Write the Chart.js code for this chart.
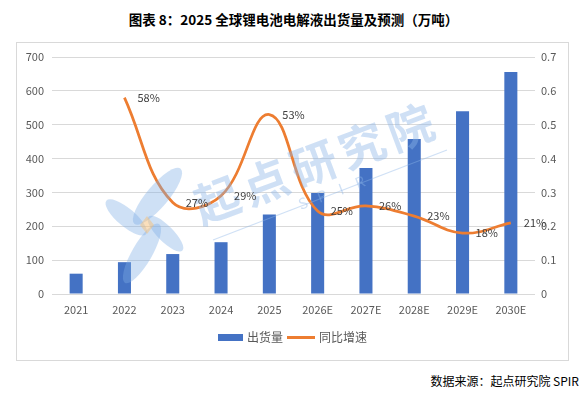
<!DOCTYPE html>
<html>
<head>
<meta charset="utf-8">
<script src="https://cdn.jsdelivr.net/npm/chart.js@4.4.0/dist/chart.umd.min.js"></script>
<style>
  body { margin: 0; background: #fff; width: 587px; height: 395px; position: relative; overflow: hidden;
         font-family: "Noto Sans CJK SC", "Noto Sans", sans-serif; }
  #title { position: absolute; left: 0; width: 587px; top: 9px; text-align: center;
           font-size: 13.5px; font-weight: bold; color: #000; line-height: 20px; }
  #frame { position: absolute; left: 16px; top: 42px; width: 551px; height: 317px; border: 1px solid #d9d9d9; }
  #wrap { position: absolute; left: 16px; top: 42px; width: 552px; height: 318px; }
  #source { position: absolute; right: 8px; top: 372px; font-size: 12px; color: #000; line-height: 18px; }
</style>
</head>
<body>
<div id="title">图表 8：2025 全球锂电池电解液出货量及预测（万吨）</div>
<div id="frame"></div>
<div id="wrap"><canvas id="chart" width="552" height="318"></canvas></div>
<div id="source">数据来源：起点研究院 SPIR</div>
<script>
// values
const years = ['2021', '2022', '2023', '2024', '2025', '2026E', '2027E', '2028E', '2029E', '2030E'];
const shipments = [60, 94, 118, 153, 235, 298, 372, 458, 540, 656];
const growth = [null, 0.58, 0.27, 0.29, 0.53, 0.245, 0.26, 0.23, 0.18, 0.21];
const growthLabels = ['', '58%', '27%', '29%', '53%', '25%', '26%', '23%', '18%', '21%'];
const leftTicks = [0, 100, 200, 300, 400, 500, 600, 700];
const rightTicks = [0, 0.1, 0.2, 0.3, 0.4, 0.5, 0.6, 0.7];

const BLUE = '#4472C4';
const ORANGE = '#ED7D31';
const FONT = '"Noto Sans CJK SC", "Noto Sans", sans-serif';

const extras = {
  id: 'extras',
  afterDatasetsDraw(chart) {
    const ctx = chart.ctx;
    // watermark
    ctx.save();
    ctx.globalAlpha = 0.42;
    ctx.fillStyle = '#8db6e6';
    const chars = '起点研究院';
    const ang = -20.5 * Math.PI / 180;
    for (let i = 0; i < chars.length; i++) {
      ctx.save();
      ctx.translate(201 + i * 48.3, 158 - i * 18.2);
      ctx.rotate(ang);
      ctx.font = 'bold 46px ' + FONT;
      ctx.textAlign = 'center';
      ctx.textBaseline = 'middle';
      ctx.fillText(chars[i], 0, 0);
      ctx.restore();
    }
    const spir = 'SPIR';
    for (let i = 0; i < spir.length; i++) {
      ctx.save();
      ctx.translate(287 + i * 19, 161 - i * 7);
      ctx.rotate(ang);
      ctx.font = '15px ' + FONT;
      ctx.textAlign = 'center';
      ctx.textBaseline = 'middle';
      ctx.fillText(spir[i], 0, 0);
      ctx.restore();
    }
    ctx.strokeStyle = '#8db6e6';
    ctx.lineWidth = 1.2;
    ctx.beginPath();
    ctx.moveTo(197, 198);
    ctx.lineTo(431, 108);
    ctx.stroke();
    // logo petals
    const cx = 131, cy = 183;
    ctx.globalAlpha = 0.38;
    ctx.fillStyle = '#7eaee6';
    [[-160, 26, 9], [-70, 36, 11], [25, 24, 8], [100, 34, 10]].forEach(p => {
      const a = p[0] * Math.PI / 180;
      ctx.beginPath();
      ctx.ellipse(cx + Math.cos(a) * p[1] * 0.85, cy + Math.sin(a) * p[1] * 0.85, p[1], p[2], a + 0.35, 0, Math.PI * 2);
      ctx.fill();
    });
    ctx.globalAlpha = 0.5;
    ctx.fillStyle = '#f5c07a';
    ctx.beginPath();
    ctx.moveTo(cx, cy - 9); ctx.lineTo(cx + 7, cy); ctx.lineTo(cx, cy + 9); ctx.lineTo(cx - 7, cy);
    ctx.closePath();
    ctx.fill();
    ctx.restore();

    // data labels for the growth line
    const meta = chart.getDatasetMeta(1);
    ctx.save();
    ctx.font = '11px ' + FONT;
    ctx.fillStyle = '#404040';
    ctx.textAlign = 'left';
    ctx.textBaseline = 'middle';
    meta.data.forEach((pt, i) => {
      if (growth[i] == null) return;
      ctx.fillText(growthLabels[i], pt.x + 13, pt.y);
    });
    ctx.restore();
  },
  afterDraw(chart) {
    const ctx = chart.ctx;
    ctx.save();
    const ly = 295.5;
    ctx.fillStyle = BLUE;
    ctx.fillRect(202, ly - 3.5, 25, 7);
    ctx.strokeStyle = ORANGE;
    ctx.lineWidth = 3;
    ctx.beginPath();
    ctx.moveTo(271, ly);
    ctx.lineTo(299, ly);
    ctx.stroke();
    ctx.font = '12px ' + FONT;
    ctx.fillStyle = '#595959';
    ctx.textBaseline = 'middle';
    ctx.fillText('出货量', 231, ly);
    ctx.fillText('同比增速', 303, ly);
    ctx.restore();
  }
};

new Chart(document.getElementById('chart'), {
  data: {
    labels: years,
    datasets: [
      {
        type: 'bar',
        label: '出货量',
        data: shipments,
        backgroundColor: BLUE,
        categoryPercentage: 1,
        barPercentage: 0.27,
        yAxisID: 'y',
        order: 2
      },
      {
        type: 'line',
        label: '同比增速',
        data: growth,
        borderColor: ORANGE,
        borderWidth: 2.75,
        pointRadius: 0,
        tension: 0.4,
        fill: false,
        yAxisID: 'y1',
        order: 1
      }
    ]
  },
  options: {
    responsive: false,
    devicePixelRatio: 1,
    animation: false,
    layout: { padding: { top: 15, left: 0, right: 0, bottom: 0 } },
    plugins: { legend: { display: false }, tooltip: { enabled: false } },
    scales: {
      x: {
        grid: { display: false },
        border: { display: false },
        ticks: { color: '#595959', font: { size: 11, family: FONT }, padding: 1, maxRotation: 0 },
        afterFit: s => { s.height = 66; }
      },
      y: {
        position: 'left',
        min: leftTicks[0],
        max: leftTicks[leftTicks.length - 1],
        ticks: { stepSize: leftTicks[1] - leftTicks[0], color: '#595959', font: { size: 11, family: FONT }, padding: 8 },
        grid: { color: '#d9d9d9', drawTicks: false },
        border: { display: false },
        afterFit: s => { s.width = 36; }
      },
      y1: {
        position: 'right',
        min: rightTicks[0],
        max: rightTicks[rightTicks.length - 1],
        ticks: {
          stepSize: 0.1, color: '#595959', font: { size: 11, family: FONT }, padding: 6,
          callback: v => String(+v.toFixed(1))
        },
        grid: { display: false, drawTicks: false },
        border: { display: false },
        afterFit: s => { s.width = 33; }
      }
    }
  },
  plugins: [extras]
});
</script>
</body>
</html>
